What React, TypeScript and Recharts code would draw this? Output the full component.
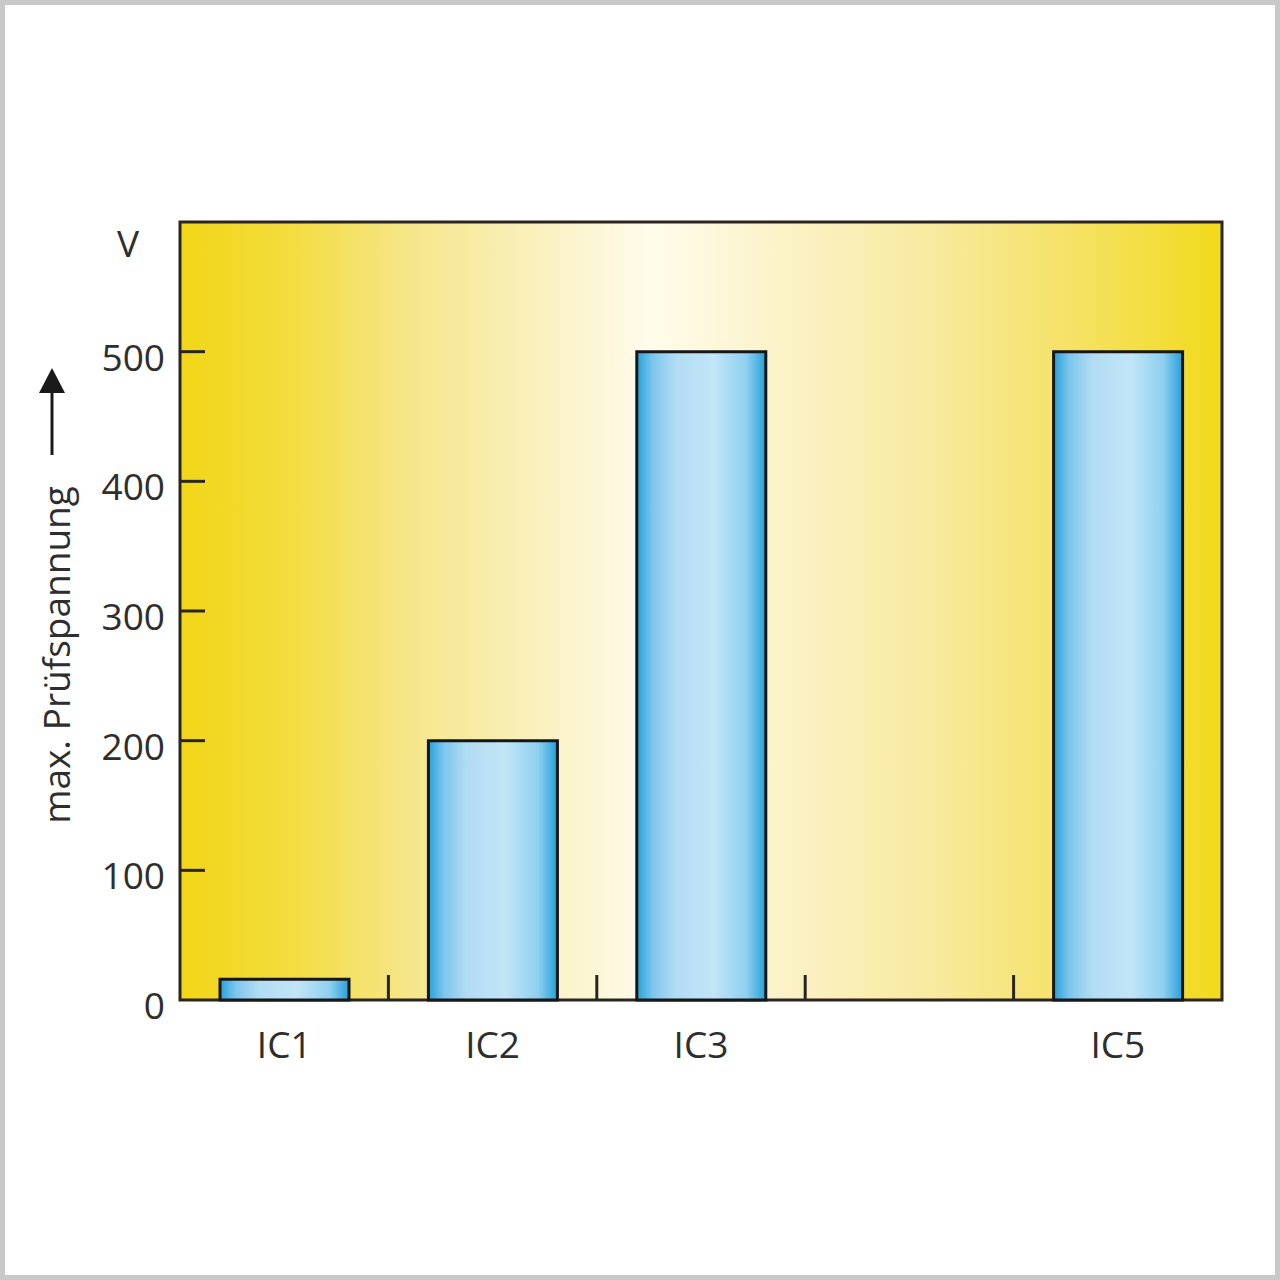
import React from 'react'
import { BarChart, Bar, XAxis, YAxis, CartesianGrid, ReferenceArea } from 'recharts'

const categories = ['IC1', 'IC2', 'IC3', '', 'IC5']
const voltages = [16, 200, 500, null, 500]
const yTicks = [0, 100, 200, 300, 400, 500]
const yUnit = 'V'
const yTitle = 'max. Prüfspannung'

const FONT = '"Open Sans", sans-serif'
const INK = '#2a2520'
const TEXT = '#2e2e2e'

// categories sit on a numeric axis at i + 0.5 so the slot borders (1..4) can carry tick marks
const data = categories.map((name, i) => ({ pos: i + 0.5, name, value: voltages[i] }))
const labelTicks = data.map(d => d.pos)
const borderTicks = categories.slice(1).map((_, i) => i + 1)
const xTicks = [...labelTicks, ...borderTicks].sort((a, b) => a - b)

function YTick(props: any) {
  const { x, y, payload } = props
  return (
    <g>
      {payload.value > 0 && (
        <line x1={x + 15} x2={x + 40} y1={y} y2={y} stroke={INK} strokeWidth={3} />
      )}
      <text x={x} y={y + 19} textAnchor="end" fontSize={37} fontFamily={FONT} fill={TEXT}>
        {payload.value}
      </text>
    </g>
  )
}

function XTick(props: any) {
  const { x, y, payload } = props
  const v = payload.value
  if (Number.isInteger(v)) {
    return <line x1={x} x2={x} y1={y} y2={y - 25} stroke={INK} strokeWidth={3} />
  }
  return (
    <text x={x} y={y + 58} textAnchor="middle" fontSize={37} fontFamily={FONT} fill={TEXT}>
      {categories[Math.floor(v)]}
    </text>
  )
}

function YTitle(props: any) {
  const { x, y } = props.viewBox
  const cx = x + 70
  const cy = y + 433
  const ax = x + 52
  return (
    <g>
      <text x={x + 128} y={y + 35} textAnchor="middle" fontSize={37} fontFamily={FONT} fill={TEXT}>
        {yUnit}
      </text>
      <text
        x={cx}
        y={cy}
        transform={`rotate(-90, ${cx}, ${cy})`}
        textAnchor="middle"
        fontSize={37}
        fontFamily={FONT}
        fill={TEXT}
      >
        {yTitle}
      </text>
      <line x1={ax} x2={ax} y1={y + 233} y2={y + 165} stroke="#1a1a1a" strokeWidth={3} />
      <polygon
        points={`${ax},${y + 146} ${ax - 13},${y + 171} ${ax + 13},${y + 171}`}
        fill="#1a1a1a"
      />
    </g>
  )
}

export default function App() {
  return (
    <div style={{ position: 'absolute', left: 0, top: 0, width: 1280, height: 1280, background: '#fff' }}>
      <BarChart
        width={1280}
        height={1280}
        data={data}
        margin={{ top: 222, right: 58, left: 0, bottom: 0 }}
      >
        <defs>
          <linearGradient id="bgGrad" x1="0" y1="0" x2="1" y2="0">
            <stop offset="0%" stopColor="#f1d617" />
            <stop offset="10%" stopColor="#f3dc3c" />
            <stop offset="22%" stopColor="#f6e68a" />
            <stop offset="35%" stopColor="#faf1c2" />
            <stop offset="45%" stopColor="#fffcec" />
            <stop offset="58%" stopColor="#fbf2c8" />
            <stop offset="72%" stopColor="#f8eaa0" />
            <stop offset="86%" stopColor="#f5e264" />
            <stop offset="100%" stopColor="#f2da1c" />
          </linearGradient>
          <linearGradient id="barGrad" x1="0" y1="0" x2="1" y2="0">
            <stop offset="0%" stopColor="#26a0da" />
            <stop offset="12%" stopColor="#7cc6ec" />
            <stop offset="30%" stopColor="#b2dcf3" />
            <stop offset="60%" stopColor="#c2e5f7" />
            <stop offset="85%" stopColor="#8fd0ef" />
            <stop offset="100%" stopColor="#26a0da" />
          </linearGradient>
        </defs>
        <CartesianGrid horizontal={false} vertical={false} fill="url(#bgGrad)" fillOpacity={1} />
        <XAxis
          dataKey="pos"
          type="number"
          domain={[0, categories.length]}
          allowDataOverflow
          ticks={xTicks}
          interval={0}
          height={280}
          axisLine={false}
          tickLine={false}
          tickSize={0}
          tickMargin={0}
          tick={<XTick />}
        />
        <YAxis
          domain={[0, 600]}
          ticks={yTicks}
          width={180}
          axisLine={false}
          tickLine={false}
          tickSize={0}
          tickMargin={15}
          tick={<YTick />}
          label={{ content: <YTitle /> }}
        />
        <Bar
          dataKey="value"
          barSize={129}
          fill="url(#barGrad)"
          stroke="#161616"
          strokeWidth={3}
          isAnimationActive={false}
        />
        <ReferenceArea y1={0} y2={600} fill="none" stroke={INK} strokeWidth={3} />
      </BarChart>
      <div
        style={{
          position: 'absolute',
          left: 0,
          top: 0,
          width: 1280,
          height: 1280,
          boxSizing: 'border-box',
          border: '5px solid #c9c9c9',
          pointerEvents: 'none',
        }}
      />
    </div>
  )
}
